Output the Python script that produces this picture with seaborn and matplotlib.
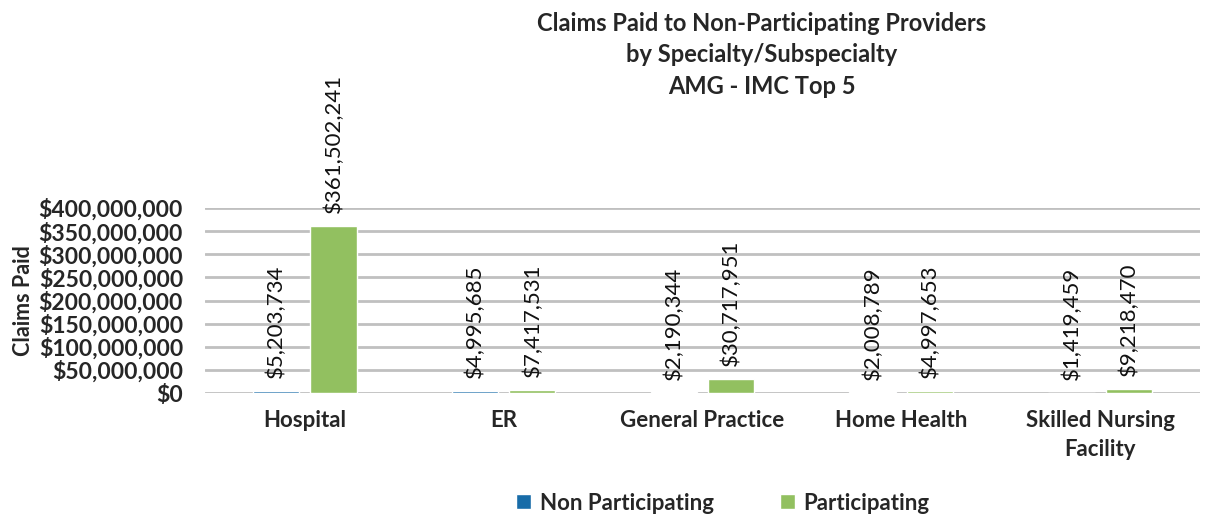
import matplotlib
matplotlib.use("Agg")
import matplotlib.pyplot as plt
import seaborn as sns
import pandas as pd

specialties = ['Hospital', 'ER', 'General Practice', 'Home Health', 'Skilled Nursing\nFacility']
non_participating = [5203734, 4995685, 2190344, 2008789, 1419459]
participating = [361502241, 7417531, 30717951, 4997653, 9218470]
series_names = ['Non Participating', 'Participating']
y_ticks = [0, 50e6, 100e6, 150e6, 200e6, 250e6, 300e6, 350e6, 400e6]

df = pd.DataFrame({
    'Specialty': specialties * 2,
    'Series': [series_names[0]] * 5 + [series_names[1]] * 5,
    'Claims': non_participating + participating,
})

sns.set_style('white')
plt.rcParams['font.family'] = ['Lato', 'DejaVu Sans']

fig = plt.figure(figsize=(12.07, 5.16), dpi=100)
ax = fig.add_axes([0.17, 0.238, 0.824, 0.359])

sns.barplot(data=df, x='Specialty', y='Claims', hue='Series',
            palette=['#0070c0', '#92d050'], width=0.58, gap=0.2,
            errorbar=None, ax=ax, zorder=3)

for cont, vals in zip(ax.containers, [non_participating, participating]):
    ax.bar_label(cont, labels=[f"${v:,.0f}" for v in vals], rotation=90,
                 padding=9, fontsize=16, color='#111111')

ax.set_ylim(0, 400e6)
ax.set_yticks(y_ticks)
ax.set_yticklabels([f"${v:,.0f}" for v in y_ticks], fontsize=16.5, fontweight='bold')
ax.tick_params(axis='y', length=0, pad=16)
ax.tick_params(axis='x', length=0, pad=12)
for lbl in ax.get_xticklabels():
    lbl.set_fontsize(16)
    lbl.set_fontweight('bold')
    lbl.set_linespacing(1.45)
ax.yaxis.grid(True, color='#c0c0c0', linewidth=2, zorder=0)
ax.set_axisbelow(True)
for s in ax.spines.values():
    s.set_visible(False)

ax.set_xlabel('')
ax.set_ylabel('Claims Paid', fontsize=15.5, fontweight='bold', labelpad=3)

fig.text(0.631, 0.977, 'Claims Paid to Non-Participating Providers\nby Specialty/Subspecialty\nAMG - IMC Top 5',
         ha='center', va='top', fontsize=17, fontweight='bold', linespacing=1.45)

handles, labels = ax.get_legend_handles_labels()
ax.get_legend().remove()
fig.legend(handles, labels, loc='center', bbox_to_anchor=(0.599, 0.025), ncol=2,
           frameon=False, handlelength=0.65, handleheight=0.65, handletextpad=0.4,
           columnspacing=3.0, prop={'size': 16, 'weight': 'bold'})

fig.savefig('out.png', dpi=100)
